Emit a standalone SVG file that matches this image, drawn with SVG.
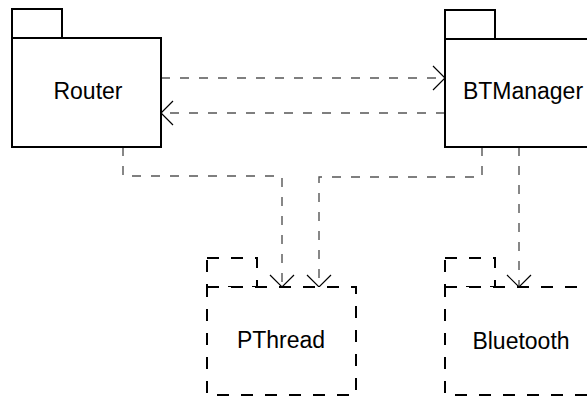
<svg xmlns="http://www.w3.org/2000/svg" width="587" height="399" viewBox="0 0 587 399">
  <style>
    .pkg { fill: #ffffff; stroke: #000000; stroke-width: 2; }
    .pkg-ext { fill: #ffffff; stroke: #000000; stroke-width: 2; stroke-dasharray: 12 12; }
    .label { font-family: "Liberation Sans", Arial, sans-serif; font-size: 23px; fill: #000000; text-anchor: middle; }
    .dep { fill: none; stroke: #555555; stroke-width: 1.4; stroke-dasharray: 9 10; marker-end: url(#open-arrow); }
  </style>
  <defs>
    <marker id="open-arrow" markerUnits="userSpaceOnUse" markerWidth="16" markerHeight="28" viewBox="-14 -14 16 28" refX="0" refY="0" orient="auto" overflow="visible">
      <path d="M-12,-12 L0,0 L-12,12" fill="none" stroke="#000000" stroke-width="1.2" stroke-dasharray="none"/>
    </marker>
  </defs>

  <rect width="587" height="399" fill="#ffffff"/>

  <!-- dependency connectors -->
  <g id="connectors">
    <path class="dep" d="M161,78 H445"/>
    <path class="dep" d="M445,113 H161"/>
    <path class="dep" d="M123,147 V176 H282 V287"/>
    <path class="dep" d="M482,147 V177 H319 V287"/>
    <path class="dep" d="M519,147 V287"/>
  </g>

  <g id="router">
    <rect class="pkg" x="12" y="9" width="50" height="29"/>
    <rect class="pkg" x="12" y="38" width="149" height="109"/>
    <text class="label" x="88" y="99">Router</text>
  </g>

  <g id="btmanager">
    <rect class="pkg" x="445" y="10" width="50" height="29"/>
    <rect class="pkg" x="445" y="39" width="149" height="108"/>
    <text class="label" x="523" y="99">BTManager</text>
  </g>

  <g id="pthread">
    <rect class="pkg-ext" x="207" y="258" width="50" height="29"/>
    <rect class="pkg-ext" x="207" y="287" width="149" height="108"/>
    <text class="label" x="281" y="348">PThread</text>
  </g>

  <g id="bluetooth">
    <rect class="pkg-ext" x="445" y="258" width="50" height="29"/>
    <rect class="pkg-ext" x="445" y="287" width="149" height="108"/>
    <text class="label" x="521" y="349">Bluetooth</text>
  </g>
</svg>
